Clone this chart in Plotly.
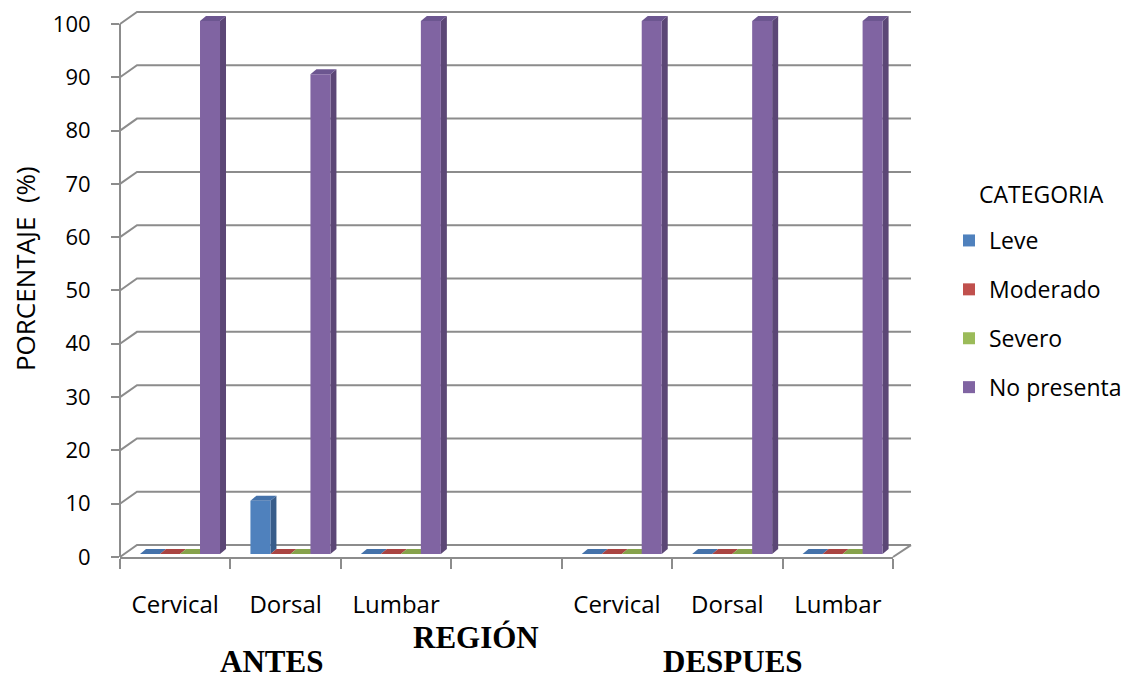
import plotly.graph_objects as go

# ---------------- data ----------------
categories = ["Cervical", "Dorsal", "Lumbar", "", "Cervical", "Dorsal", "Lumbar"]
series_names = ["Leve", "Moderado", "Severo", "No presenta"]
leve = [0, 10, 0, None, 0, 0, 0]
moderado = [0, 0, 0, None, 0, 0, 0]
severo = [0, 0, 0, None, 0, 0, 0]
no_presenta = [100, 90, 100, None, 100, 100, 100]
y_ticks = [0, 10, 20, 30, 40, 50, 60, 70, 80, 90, 100]
group_labels = ["ANTES", "DESPUES"]
x_title = "REGIÓN"
y_title = "PORCENTAJE  (%)"
legend_title = "CATEGORIA"

series_values = [leve, moderado, severo, no_presenta]

# ---------------- styling / geometry ----------------
front_cols = ["#4F81BD", "#C0504D", "#9BBB59", "#8064A2"]
side_cols = ["#385D8A", "#8C3A38", "#71893F", "#5C4776"]
top_cols = ["#4572AA", "#A94441", "#86A24B", "#6C5690"]
grid_col = "#8C8C8C"

W, H = 1128, 678
L, R, T, B = 120, 893, 8, 557          # plot area edges in px
ncat = len(categories)
ux = (R - L) / ncat                     # px per category unit
uy = 5.35                               # px per percentage unit
bar_zero = 554                          # px where the bars start (mid depth)

bar_w = 20 / ux
first_off = -35.2 / ux
dx3, dy3 = 6 / ux, 5 / uy               # 3D depth of each bar
wall_dx, wall_dy = 17, 12               # back-wall offset in px

x_pos = list(range(ncat))

fig = go.Figure()
shapes = []


def px_to_paper_x(px):
    return (px - L) / (R - L)


def px_to_paper_y(py):
    return (B - py) / (B - T)


# back wall gridlines + left-wall diagonals
for g in y_ticks:
    fy = B - uy * g
    by = fy - wall_dy
    path = "M {:.5f},{:.5f} L {:.5f},{:.5f} L {:.5f},{:.5f}".format(
        px_to_paper_x(L), px_to_paper_y(fy),
        px_to_paper_x(L + wall_dx), px_to_paper_y(by),
        px_to_paper_x(R + wall_dx + 1), px_to_paper_y(by))
    shapes.append(dict(type="path", path=path, xref="paper", yref="paper",
                       line=dict(color=grid_col, width=2), layer="below"))
# floor right edge
shapes.append(dict(type="path", xref="paper", yref="paper", layer="below",
                   path="M {:.5f},{:.5f} L {:.5f},{:.5f}".format(
                       px_to_paper_x(R), px_to_paper_y(B),
                       px_to_paper_x(R + wall_dx + 1), px_to_paper_y(B - wall_dy)),
                   line=dict(color=grid_col, width=2)))
# front vertical axis line
shapes.append(dict(type="line", xref="paper", yref="y", layer="below",
                   x0=0, x1=0, y0=y_ticks[0], y1=y_ticks[-1],
                   line=dict(color=grid_col, width=2)))

# bars (front faces as traces, side/top faces as shapes)
for si, (name, vals) in enumerate(zip(series_names, series_values)):
    off = first_off + si * bar_w
    fig.add_trace(go.Bar(
        x=x_pos, y=vals, name=name, legendgroup=name,
        offset=off, width=bar_w,
        marker=dict(color=front_cols[si], line=dict(width=0)),
        xaxis="x", yaxis="y2",
    ))
for ci in x_pos:
    for si, vals in enumerate(series_values):
        v = vals[ci]
        if v is None:
            continue
        xl = ci + first_off + si * bar_w
        xr = xl + bar_w
        side = "M {a},{b} L {a},{c} L {d},{e} L {d},{f} Z".format(
            a=xr, b=0, c=v, d=xr + dx3, e=v + dy3, f=dy3)
        top = "M {a},{v} L {b},{v} L {c},{w} L {d},{w} Z".format(
            a=xl, b=xr, c=xr + dx3, d=xl + dx3, v=v, w=v + dy3)
        shapes.append(dict(type="path", path=side, xref="x", yref="y2",
                           fillcolor=side_cols[si], line=dict(width=0),
                           layer="below"))
        shapes.append(dict(type="path", path=top, xref="x", yref="y2",
                           fillcolor=top_cols[si], line=dict(width=0),
                           layer="below"))


def ann(text, px, py, family, size, angle=0):
    return dict(text=text, textangle=angle, x=px_to_paper_x(px), y=px_to_paper_y(py),
                xref="paper", yref="paper", showarrow=False,
                xanchor="center", yanchor="middle",
                font=dict(family=family, size=size, color="#000"))


annotations = [
    ann(y_title, 25, 268, "Open Sans", 26, -90),
    ann("<b>" + x_title + "</b>", 476, 638, "Liberation Serif", 31),
    ann("<b>" + group_labels[0] + "</b>", 271, 662, "Liberation Serif", 31),
    ann("<b>" + group_labels[1] + "</b>", 733, 662, "Liberation Serif", 31),
    ann(legend_title, 1041, 193, "Open Sans", 23),
]

fig.update_layout(
    width=W, height=H,
    margin=dict(l=L, r=W - R, t=T, b=H - B, pad=0),
    paper_bgcolor="white", plot_bgcolor="rgba(0,0,0,0)",
    font=dict(family="Open Sans", color="#000"),
    barmode="overlay",
    showlegend=True,
    legend=dict(
        font=dict(family="Open Sans", size=23, color="#000"),
        traceorder="grouped", tracegroupgap=16,
        xref="container", yref="container",
        x=949 / W, y=1 - 219 / H, xanchor="left", yanchor="top",
        bgcolor="rgba(0,0,0,0)",
    ),
    xaxis=dict(
        range=[-0.5, ncat - 0.5], tickmode="array", tickvals=[i for i, c in enumerate(categories) if c],
        ticktext=[c for c in categories if c], ticks="", showgrid=False, zeroline=False,
        showline=True, linecolor=grid_col, linewidth=2,
        tickfont=dict(family="Open Sans", size=24, color="#000"),
        ticklabelstandoff=25,
        minor=dict(tickmode="array", tickvals=[i - 0.5 for i in range(ncat + 1)],
                   ticks="outside", ticklen=10, tickwidth=2, tickcolor=grid_col,
                   showgrid=False),
    ),
    yaxis=dict(
        range=[0, (B - T) / uy], tickmode="array", tickvals=y_ticks,
        ticks="outside", ticklen=8, tickwidth=2, tickcolor=grid_col,
        showgrid=False, zeroline=False, showline=False,
        tickfont=dict(family="Open Sans", size=22, color="#000"),
        ticklabelstandoff=16,
    ),
    yaxis2=dict(
        range=[-(B - bar_zero) / uy, (bar_zero - T) / uy], overlaying="y",
        showgrid=False, zeroline=False, showline=False, showticklabels=False,
        ticks="",
    ),
    shapes=shapes,
    annotations=annotations,
)

fig.write_html("out.html")
